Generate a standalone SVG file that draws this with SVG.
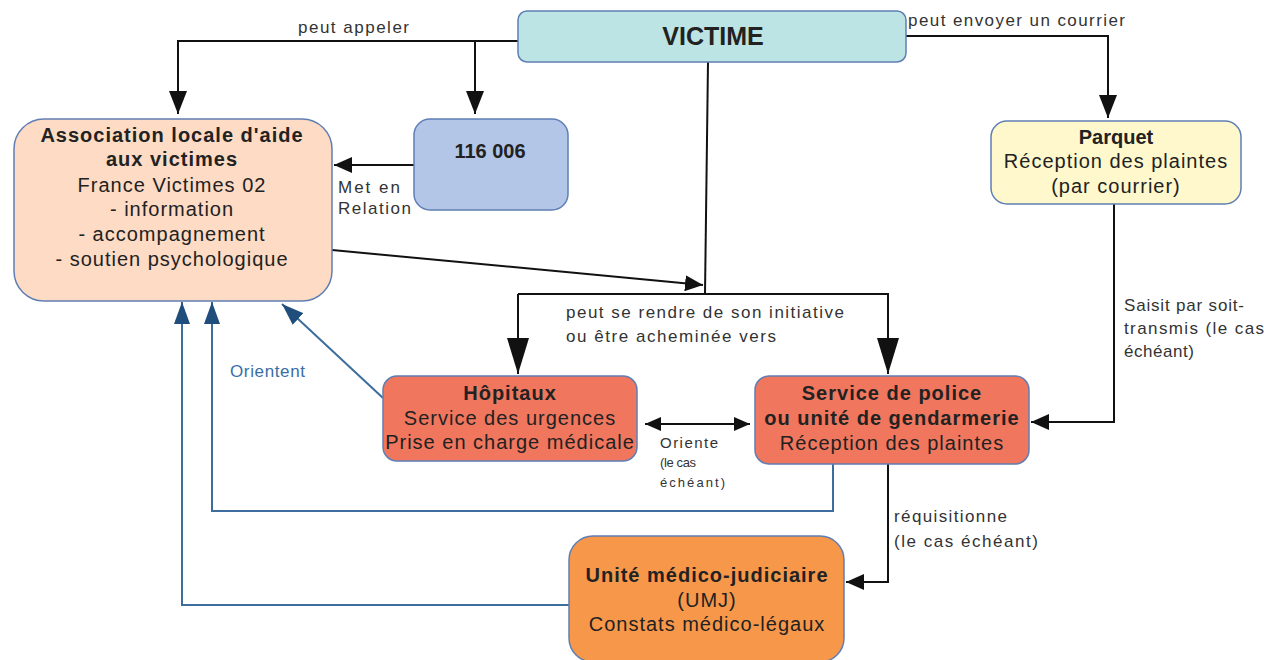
<svg xmlns="http://www.w3.org/2000/svg" width="1264" height="660" viewBox="0 0 1264 660">
<style>
text{font-family:"Liberation Sans",Arial,sans-serif;fill:#222}
.n{font-size:20px;text-anchor:middle;letter-spacing:1px}
.b{font-weight:bold}
.l{font-size:17px;fill:#333}
.s{font-size:13px;fill:#333}
.bl{fill:#3a6ea5}
.box{stroke:#5f7fb4;stroke-width:1.5}
.k{fill:none;stroke:#111;stroke-width:2}
.u{fill:none;stroke:#3c6d9c;stroke-width:2}
</style>
<defs>
<marker id="ab" viewBox="0 0 10 10" refX="10" refY="5" markerWidth="18" markerHeight="16" markerUnits="userSpaceOnUse" orient="auto" preserveAspectRatio="none"><path d="M0,0L10,5L0,10z" fill="#111"/></marker>
<marker id="am" viewBox="0 0 10 10" refX="10" refY="5" markerWidth="23" markerHeight="18" markerUnits="userSpaceOnUse" orient="auto" preserveAspectRatio="none"><path d="M0,0L10,5L0,10z" fill="#111"/></marker>
<marker id="abl" viewBox="0 0 10 10" refX="10" refY="5" markerWidth="36" markerHeight="22" markerUnits="userSpaceOnUse" orient="auto" preserveAspectRatio="none"><path d="M0,0L10,5L0,10z" fill="#111"/></marker>
<marker id="as" viewBox="0 0 10 10" refX="10" refY="5" markerWidth="16" markerHeight="14" markerUnits="userSpaceOnUse" orient="auto-start-reverse" preserveAspectRatio="none"><path d="M0,0L10,5L0,10z" fill="#111"/></marker>
<marker id="au" viewBox="0 0 10 10" refX="10" refY="5" markerWidth="22" markerHeight="16" markerUnits="userSpaceOnUse" orient="auto" preserveAspectRatio="none"><path d="M0,0L10,5L0,10z" fill="#1f4e7c"/></marker>
</defs>
<g id="connectors">
<polyline class="k" points="518,41 178,41 178,114" marker-end="url(#am)"/>
<polyline class="k" points="475,41 475,114" marker-end="url(#am)"/>
<polyline class="k" points="906,36 1108,36 1108,118" marker-end="url(#am)"/>
<line class="k" x1="414" y1="165" x2="334" y2="165" marker-end="url(#ab)"/>
<polyline class="k" points="708,62 705,294"/>
<polyline class="k" points="518,294 888,294 888,374" marker-end="url(#abl)"/>
<line class="k" x1="518" y1="294" x2="518" y2="374" marker-end="url(#abl)"/>
<line class="k" x1="332" y1="250" x2="703" y2="285" marker-end="url(#ab)"/>
<polyline class="k" points="1114,204 1114,422 1031,422" marker-end="url(#ab)"/>
<line class="k" x1="645" y1="424" x2="750" y2="424" marker-start="url(#as)" marker-end="url(#as)"/>
<polyline class="k" points="888,464 888,582 846,582" marker-end="url(#ab)"/>
<polyline class="u" points="833,464 833,511 212,511 212,302" marker-end="url(#au)"/>
<polyline class="u" points="569,605 182,605 182,302" marker-end="url(#au)"/>
<line class="u" x1="383" y1="398" x2="282" y2="304" marker-end="url(#au)"/>
<text class="l" x="298" y="33" textLength="111">peut appeler</text>
<text class="l" x="908" y="26" textLength="217">peut envoyer un courrier</text>
<text class="l" x="338" y="193" textLength="62">Met en</text>
<text class="l" x="338" y="214" textLength="73">Relation</text>
<text class="l" x="566" y="318" textLength="278">peut se rendre de son initiative</text>
<text class="l" x="566" y="342" textLength="210">ou être acheminée vers</text>
<text class="l" x="1124" y="311" textLength="120">Saisit par soit-</text>
<text class="l" x="1124" y="334" textLength="140">transmis (le cas</text>
<text class="l" x="1124" y="357" textLength="70">échéant)</text>
<text class="l bl" x="230" y="377" textLength="75">Orientent</text>
<text class="l" x="660" y="448" style="font-size:15px" textLength="58">Oriente</text>
<text class="s" x="660" y="467" textLength="36">(le cas</text>
<text class="s" x="660" y="487" textLength="65">échéant)</text>
<text class="l" x="894" y="522" textLength="113">réquisitionne</text>
<text class="l" x="894" y="547" textLength="144">(le cas échéant)</text>
</g>
<g id="victime">
<rect class="box" x="518" y="11" width="388" height="51" rx="9" fill="#bde4e4"/>
<text class="n b" x="713" y="45" style="font-size:25px;letter-spacing:0">VICTIME</text>
</g>
<g id="association">
<rect class="box" x="14" y="119" width="318" height="182" rx="30" fill="#fddbc4"/>
<text class="n b" x="172" y="142">Association locale d'aide</text>
<text class="n b" x="172" y="166">aux victimes</text>
<text class="n" x="172" y="192">France Victimes 02</text>
<text class="n" x="172" y="216">- information</text>
<text class="n" x="172" y="241">- accompagnement</text>
<text class="n" x="172" y="266">- soutien psychologique</text>
</g>
<g id="n116006">
<rect class="box" x="414" y="119" width="154" height="91" rx="16" fill="#b3c6e7"/>
<text class="n b" x="490" y="158" style="letter-spacing:0">116 006</text>
</g>
<g id="parquet">
<rect class="box" x="991" y="121" width="250" height="83" rx="16" fill="#fff8cd"/>
<text class="n b" x="1116" y="144" style="letter-spacing:0">Parquet</text>
<text class="n" x="1116" y="168">Réception des plaintes</text>
<text class="n" x="1116" y="193">(par courrier)</text>
</g>
<g id="hopitaux">
<rect class="box" x="383" y="376" width="254" height="85" rx="14" fill="#f0765e"/>
<text class="n b" x="510" y="400">Hôpitaux</text>
<text class="n" x="510" y="425">Service des urgences</text>
<text class="n" x="510" y="449">Prise en charge médicale</text>
</g>
<g id="police">
<rect class="box" x="755" y="376" width="274" height="88" rx="14" fill="#f0765e"/>
<text class="n b" x="892" y="400">Service de police</text>
<text class="n b" x="892" y="425">ou unité de gendarmerie</text>
<text class="n" x="892" y="450">Réception des plaintes</text>
</g>
<g id="umj">
<rect class="box" x="569" y="536" width="275" height="126" rx="24" fill="#f7974a"/>
<text class="n b" x="707" y="582">Unité médico-judiciaire</text>
<text class="n" x="707" y="607">(UMJ)</text>
<text class="n" x="707" y="631">Constats médico-légaux</text>
</g>
</svg>
